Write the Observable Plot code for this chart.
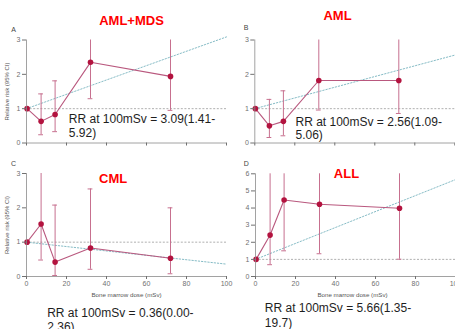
<!DOCTYPE html>
<html><head><meta charset="utf-8">
<script src="https://cdn.jsdelivr.net/npm/d3@7"></script>
<script src="https://cdn.jsdelivr.net/npm/@observablehq/plot@0.6"></script>
<style>
body{margin:0;background:#fff;}
#chart{position:relative;width:455px;height:329px;overflow:hidden;background:#fff;}
#chart svg{position:absolute;left:0;top:0;}
</style></head><body><div id="chart"></div>
<script>
// ---- data ----
const doses = [0.3, 7.3, 14.3, 32, 72];
const panelLetters = ["A", "B", "C", "D"];
const diseases = ["AML+MDS", "AML", "CML", "ALL"];
const rrA = [1, 0.63, 0.83, 2.35, 1.94];
const loA = [null, 0.24, 0.33, 1.29, 0.95];
const hiA = [null, 1.43, 1.81, 3, 3];
const rrB = [1, 0.5, 0.63, 1.82, 1.82];
const loB = [null, 0.16, 0.21, 0.96, 0.86];
const hiB = [null, 1.27, 1.52, 3, 3];
const rrC = [1, 1.53, 0.42, 0.83, 0.53];
const loC = [null, 0.48, 0.03, 0.21, 0.08];
const hiC = [null, 3, 2.08, 2.55, 2.0];
const rrD = [1, 2.42, 4.47, 4.22, 3.99];
const loD = [null, 0.69, 1.5, 1.33, 1.01];
const hiD = [null, 6, 6, 6, 6];
const rr100 = [3.09, 2.56, 0.36, 5.66];
const ciLow100 = ["1.41", "1.09", "0.00", "1.35"];
const ciHigh100 = ["5.92", "5.06", "2.36", "19.7"];
const yMax = [3, 3, 3, 6];
const xTicks = [0, 20, 40, 60, 80, 100];
const yLabel = "Relative risk (95% CI)";
const xLabel = "Bone marrow dose (mSv)";

// ---- layout (pixels) ----
const W = 455, H = 329;
const layouts = [
  {ml: 26, mr: 229, mt: 39.5, mb: 186.5, xLabels: false, letter: [13, 29], title: [131, 20],
   note: [68.3, 125.2, 1.1], yLab: [7, 91]},
  {ml: 254.3, mr: 0.7, mt: 39.5, mb: 186.5, xLabels: false, letter: [245.7, 27], title: [337, 15],
   note: [295, 127.4, 1.1]},
  {ml: 26, mr: 229, mt: 173, mb: 53, xLabels: true, letter: [13, 163], title: [112.7, 178.3],
   note: [46.7, 319.3, 1.12], yLab: [7, 224.5], xLab: [126, 295]},
  {ml: 255, mr: 0, mt: 173.3, mb: 53, xLabels: true, letter: [245.7, 163.3], title: [346, 173.3],
   note: [264.3, 314, 1.28], xLab: [352, 295]}
];
const series = [[rrA, loA, hiA], [rrB, loB, hiB], [rrC, loC, hiC], [rrD, loD, hiD]];
const font = "'Liberation Sans', Arial, sans-serif";

function panel(i) {
  const L = layouts[i];
  const [rr, lo, hi] = series[i];
  const data = doses.map((d, j) => ({dose: d, rr: rr[j], lo: lo[j], hi: hi[j]}));
  const bars = data.filter(d => d.lo != null);
  const caps = [];
  bars.forEach(d => {
    caps.push({dose: d.dose, y: d.lo});
    if (d.hi < yMax[i]) caps.push({dose: d.dose, y: d.hi});
  });
  const fx = px => (px - L.ml) / (W - L.ml - L.mr) * 100;
  const fy = py => (H - L.mb - py) / (H - L.mb - L.mt) * yMax[i];
  const trend = [{dose: 0, rr: 1}, {dose: 100, rr: rr100[i]}];
  const note = `RR at 100mSv = ${rr100[i].toFixed(2)}(${ciLow100[i]}-\n${ciHigh100[i]})`;
  const marks = [
    Plot.ruleY([1], {stroke: "#9c9c9c", strokeDasharray: "2,1.6", strokeWidth: 0.8}),
    Plot.line(trend, {x: "dose", y: "rr", stroke: "#86bcc6", strokeDasharray: "1.4,1.8", strokeWidth: 1}),
    Plot.ruleX(bars, {x: "dose", y1: "lo", y2: "hi", stroke: "#c7708f", strokeWidth: 1}),
    Plot.ruleY(caps, {y: "y", x1: d => d.dose - 1.2, x2: d => d.dose + 1.2, stroke: "#c7708f", strokeWidth: 1}),
    Plot.line(data, {x: "dose", y: "rr", stroke: "#b9587e", strokeWidth: 1.1}),
    Plot.dot(data, {x: "dose", y: "rr", r: 2.8, fill: "#b3133f", stroke: "none"}),
    Plot.ruleX([0], {stroke: "#8a8a8a", strokeWidth: 0.8}),
    Plot.ruleY([0], {stroke: "#8a8a8a", strokeWidth: 0.8}),
    Plot.axisX({ticks: xTicks, tickSize: 3, tickPadding: 2, fontSize: 7, color: "#707070",
      tickFormat: L.xLabels ? (d => String(d)) : (() => ""), label: null}),
    Plot.axisY({ticks: d3.range(0, yMax[i] + 1), tickSize: 4, tickPadding: 2, fontSize: 7, color: "#707070",
      tickFormat: d => String(d), label: null}),
    Plot.text([panelLetters[i]], {x: () => fx(L.letter[0]), y: () => fy(L.letter[1]), fontSize: 7, fill: "#444"}),
    Plot.text([diseases[i]], {x: () => fx(L.title[0]), y: () => fy(L.title[1]), fontSize: 13, fontWeight: "bold", fill: "#ff0000"}),
    Plot.text([note], {x: () => fx(L.note[0]), y: () => fy(L.note[1]), textAnchor: "start", lineHeight: L.note[2], fontSize: 12, fill: "#1e1e1e"})
  ];
  if (L.yLab) marks.push(Plot.text([yLabel], {x: () => fx(L.yLab[0]), y: () => fy(L.yLab[1]), rotate: -90, fontSize: 6, fill: "#555"}));
  if (L.xLab) marks.push(Plot.text([xLabel], {x: () => fx(L.xLab[0]), y: () => fy(L.xLab[1]), fontSize: 6.2, fill: "#555"}));
  return Plot.plot({
    width: W, height: H,
    marginLeft: L.ml, marginRight: L.mr, marginTop: L.mt, marginBottom: L.mb,
    style: {background: "transparent", fontFamily: font, overflow: "visible"},
    x: {domain: [0, 100]},
    y: {domain: [0, yMax[i]]},
    marks
  });
}

const chart = document.getElementById("chart");
for (let i = 0; i < 4; i++) chart.appendChild(panel(i));
</script></body></html>
